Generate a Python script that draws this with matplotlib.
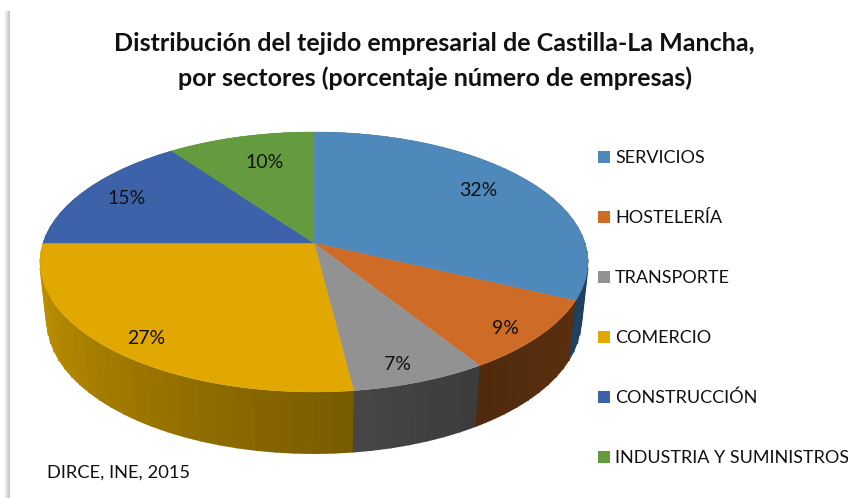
import numpy as np
import matplotlib
matplotlib.use("Agg")
import matplotlib.pyplot as plt
from matplotlib.colors import to_rgb

categories = ["SERVICIOS", "HOSTELERÍA", "TRANSPORTE", "COMERCIO", "CONSTRUCCIÓN", "INDUSTRIA Y SUMINISTROS"]
values = [32, 9, 7, 27, 15, 10]
top_colors = ["#4F88BB", "#CE6B26", "#929292", "#E0A800", "#3C63A9", "#659B3F"]
side_start = ["#1B3A57", "#5A2F0F", "#3C3C3C", "#7A5C00", "#264070", "#40662A"]
side_end = ["#1F4060", "#512A0D", "#464646", "#C89800", "#2C4A80", "#40662A"]
title_lines = ["Distribución del tejido empresarial de Castilla-La Mancha,",
               "por sectores (porcentaje número de empresas)"]
source = "DIRCE, INE, 2015"
label_radius = [0.76, 0.90, 0.90, 0.88, 0.82, 0.73]
label_nudge = [(0, -4), (-9, 3), (-11, -1), (7, 3), (0, 0), (6, 0)]

FONT = "Lato"
CX, CY, A, B, K = 314, 243, 271, 127.2, 0.146
DEPTH, XS, YS = 59, 0.975, 1.02


def project(theta, r=1.0):
    u, v = r * np.sin(theta), r * np.cos(theta)
    d = 1 + K * v
    return CX + A * u / d, CY + B * (-v) / d


def lower(x, y):
    return CX + (x - CX) * XS, CY + (y - CY) * YS + DEPTH


fig = plt.figure(figsize=(8.48, 4.98), dpi=100)
ax = fig.add_axes([0, 0, 1, 1])
ax.set_xlim(0, 848)
ax.set_ylim(498, 0)
ax.axis("off")

# frame shadow of the pasted picture
for i in range(6):
    g = 1 - 0.03 * (i + 1) ** 1.15
    ax.fill([4 + i, 5 + i, 5 + i, 4 + i], [11, 11, 498, 498], color=(g, g, g), lw=0)

edges = 2 * np.pi * np.cumsum([0] + values) / sum(values)

# sides, drawn as strips so the shading can change along the rim
for i in range(len(values)):
    t = np.linspace(edges[i], edges[i + 1], max(values[i], 2) + 1)
    c0, c1 = np.array(to_rgb(side_start[i])), np.array(to_rgb(side_end[i]))
    for j in range(len(t) - 1):
        seg = np.linspace(t[j], t[j + 1], 12)
        x, y = project(seg)
        xl, yl = lower(x, y)
        f = j / max(len(t) - 2, 1)
        col = c0 + (c1 - c0) * f
        ax.fill(np.r_[x, xl[::-1]], np.r_[y, yl[::-1]], color=col, lw=0, zorder=2 + y.mean() / 1000)
        # overlap with the neighbouring strip hides hairline seams
        ax.plot([x[-1], xl[-1]], [y[-1], yl[-1]], color=col, lw=1.2, solid_capstyle="butt",
                zorder=2 + y.mean() / 1000)

# top face
for i in range(len(values)):
    t = np.linspace(edges[i], edges[i + 1], 120)
    x, y = project(t)
    ax.fill(np.r_[CX, x], np.r_[CY, y], color=top_colors[i], lw=0.3, ec=top_colors[i], zorder=3)

# value labels
for i, v in enumerate(values):
    mid = (edges[i] + edges[i + 1]) / 2
    x, y = project(mid, label_radius[i])
    ax.text(x + label_nudge[i][0], y + label_nudge[i][1], f"{v}%", ha="center", va="center",
            fontsize=14, family=FONT, color="#111111", zorder=4)

# title
for line, y in zip(title_lines, [43, 78]):
    ax.text(434.5, y, line, ha="center", va="center", fontsize=18, fontweight="bold", family=FONT, color="#111111")

# legend
for i, name in enumerate(categories):
    y = 157 + 60 * i
    ax.fill([598, 610, 610, 598], [y - 6, y - 6, y + 6, y + 6], color=top_colors[i], lw=0)
    ax.text(615, y + 1, name, ha="left", va="center", fontsize=13, family=FONT, color="#111111")

ax.text(47, 473, source, ha="left", va="center", fontsize=13.2, family=FONT, color="#111111")

fig.savefig("out.png", dpi=100)
